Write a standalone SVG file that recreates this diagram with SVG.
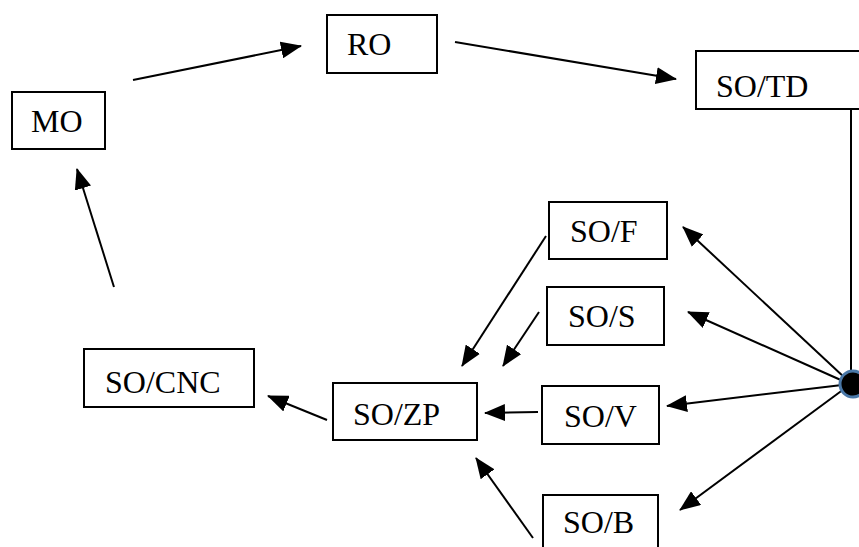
<svg xmlns="http://www.w3.org/2000/svg" width="859" height="547" viewBox="0 0 859 547">
<style>
.box{fill:#fff;stroke:#000;stroke-width:2}
.lbl{font-family:"Liberation Serif","Times New Roman",serif;font-size:32px;fill:#000}
.con{stroke:#000;stroke-width:2;fill:none}
.arr{marker-end:url(#ah)}
</style>
<defs>
<marker id="ah" markerUnits="userSpaceOnUse" viewBox="0 0 21 17" refX="20" refY="8.5" markerWidth="21" markerHeight="17" orient="auto">
<path d="M0,0 L21,8.5 L0,17 z" fill="#000"/>
</marker>
</defs>
<rect width="859" height="547" fill="#fff"/>
<g id="connectors">
<line class="con arr" x1="133" y1="80" x2="301" y2="46"/>
<line class="con arr" x1="455" y1="42" x2="676" y2="79"/>
<line class="con arr" x1="114" y1="287" x2="77" y2="169"/>
<line class="con arr" x1="327" y1="420" x2="268" y2="396"/>
<line class="con arr" x1="546" y1="236" x2="462" y2="366"/>
<line class="con arr" x1="539" y1="312" x2="503" y2="366"/>
<line class="con arr" x1="538" y1="412" x2="485" y2="413"/>
<line class="con arr" x1="533" y1="538" x2="476" y2="458"/>
<line class="con" x1="851" y1="109" x2="851" y2="372"/>
<line class="con arr" x1="845" y1="378" x2="683" y2="227"/>
<line class="con arr" x1="843" y1="381" x2="688" y2="312"/>
<line class="con arr" x1="842" y1="385" x2="667" y2="406"/>
<line class="con arr" x1="844" y1="389" x2="680" y2="510"/>
</g>
<g id="MO"><rect class="box" x="12" y="92" width="93" height="57"/><text class="lbl" x="31" y="132">MO</text></g>
<g id="RO"><rect class="box" x="327" y="15" width="110" height="58"/><text class="lbl" x="347" y="55">RO</text></g>
<g id="SO_TD"><rect class="box" x="696" y="51" width="175" height="58"/><text class="lbl" x="716" y="97">SO/TD</text></g>
<g id="SO_F"><rect class="box" x="549" y="202" width="118" height="57"/><text class="lbl" x="570" y="242">SO/F</text></g>
<g id="SO_S"><rect class="box" x="547" y="287" width="117" height="58"/><text class="lbl" x="568" y="327">SO/S</text></g>
<g id="SO_CNC"><rect class="box" x="84" y="349" width="170" height="58"/><text class="lbl" x="105" y="393">SO/CNC</text></g>
<g id="SO_ZP"><rect class="box" x="333" y="383" width="144" height="57"/><text class="lbl" x="353" y="425">SO/ZP</text></g>
<g id="SO_V"><rect class="box" x="542" y="386" width="117" height="58"/><text class="lbl" x="564" y="427">SO/V</text></g>
<g id="SO_B"><rect class="box" x="543" y="495" width="115" height="70"/><text class="lbl" x="563" y="533">SO/B</text></g>
<g id="dot"><circle cx="853" cy="384" r="13" fill="#000" stroke="#4a78a8" stroke-width="3"/></g>
</svg>
